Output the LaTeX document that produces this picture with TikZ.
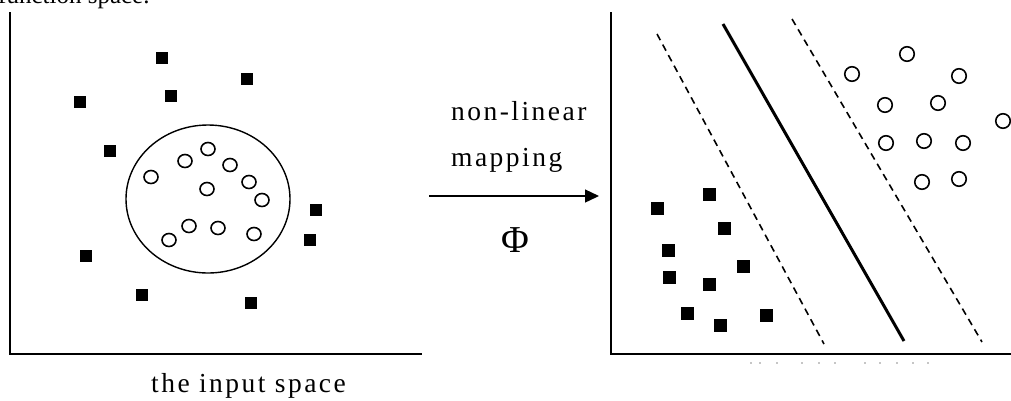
\documentclass[tikz,border=0pt]{standalone}
\usepackage{fontspec}
\setmainfont{Liberation Serif}
\newfontfamily\spacedfont[LetterSpace=9]{Liberation Serif}
\usetikzlibrary{arrows.meta,shapes.geometric}
\begin{document}
\begin{tikzpicture}[x=1pt,y=-1pt,
  sq/.style={fill=black,draw=none,minimum size=12pt,inner sep=0pt,rectangle},
  sqb/.style={sq,minimum size=13pt},
  ptl/.style={draw=black,line width=1.6pt,ellipse,minimum width=14pt,minimum height=13pt,inner sep=0pt},
  ptr/.style={draw=black,line width=1.6pt,circle,minimum size=14.5pt,inner sep=0pt},
  axis/.style={line width=2.6pt,line join=miter},
  dashline/.style={line width=1.6pt,dash pattern=on 7pt off 5pt},
  lbl/.style={font=\fontsize{27.5}{32}\selectfont\spacedfont,inner sep=0pt,anchor=base west},
  faint/.style={circle,fill=black!45,draw=none,minimum size=1.6pt,inner sep=0pt},
]
\useasboundingbox (0,0) rectangle (1011,400);
% top cut-off caption
\node[font=\fontsize{25}{30}\selectfont,inner sep=0pt,anchor=base west] (topcap) at (-2,3.5) {function space.};
% left axes
\coordinate (LT) at (10,12);
\coordinate (LO) at (10,354);
\coordinate (LR) at (422,354);
\draw[axis] (LT) -- (LO) -- (LR);
% right axes
\coordinate (RT) at (611,12);
\coordinate (RO) at (611,354);
\coordinate (RR) at (1015,354);
\draw[axis] (RT) -- (RO) -- (RR);
% left big ellipse
\node[draw=black,line width=1.4pt,ellipse,minimum width=164pt,minimum height=148pt,inner sep=0pt] (bound) at (208,199) {};
% left squares
\foreach \x/\y [count=\i] in {162/58,247/79,171/96,80/102,110/151,316/210,310/240,86/256,142/295,251/303}
  \node[sq] (ls\i) at (\x,\y) {};
% left circles
\foreach \x/\y [count=\i] in {151/177,185/161,208/149,230/165,249/182,207/189,262/200,189/226,218/228,254/234,169/240}
  \node[ptl] (lc\i) at (\x,\y) {};
% mapping arrow
\coordinate (A1) at (429,196);
\coordinate (A2) at (599,196);
\draw[line width=1.3pt,-{Triangle[length=14pt,width=13pt]}] (A1) -- (A2);
\node[lbl] (nl) at (451,120) {non-linear};
\node[lbl] (mp) at (451,166) {mapping};
\node[font=\fontsize{38}{40}\selectfont,inner sep=0pt] (phi) at (515,240) {Φ};
\node[lbl] (incap) at (151,392) {the input space};
% separating lines
\coordinate (D1a) at (657,34);
\coordinate (D1b) at (824,344);
\coordinate (Sa) at (723,24);
\coordinate (Sb) at (904,341);
\coordinate (D2a) at (792,19);
\coordinate (D2b) at (982,342);
\draw[dashline] (D1a) -- (D1b);
\draw[line width=3pt] (Sa) -- (Sb);
\draw[dashline] (D2a) -- (D2b);
% right circles
\foreach \x/\y [count=\i] in {907/54,852/74,959/76,885/105,938/103,1003/121,886/143,924/141,963/143,922/182,959/179}
  \node[ptr] (rc\i) at (\x,\y) {};
% right squares
\foreach \x/\y [count=\i] in {709/194,657/208,724/228,668/250,743/266,669/277,709/284,687/313,766/315,720/325}
  \node[sqb] (rs\i) at (\x,\y) {};
% faint remnant dots below right axis
\foreach \x [count=\i] in {751,760,777,802,819,835,865,880,897,913,928}
  \node[faint] (fd\i) at (\x,363) {};
\end{tikzpicture}
\end{document}
